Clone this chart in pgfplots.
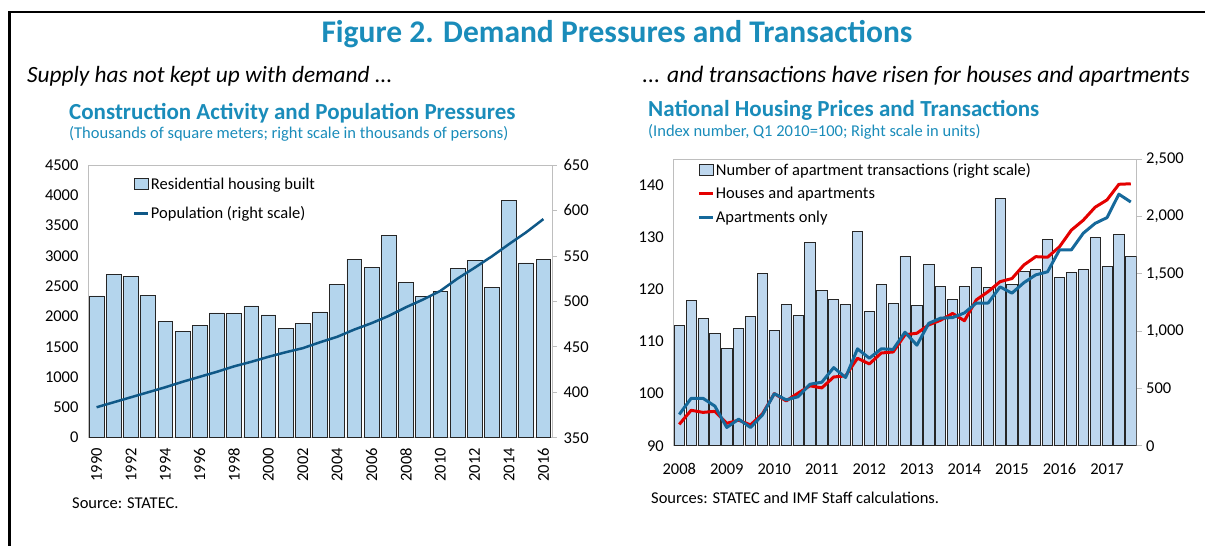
\documentclass[border=0pt]{standalone}
\usepackage{pgfplots}
\usepackage{pgfplotstable}
\pgfplotsset{compat=1.18}
\usepackage{fontspec}
\setmainfont{Carlito}
\definecolor{teal1}{RGB}{26,140,186}
\definecolor{barL}{RGB}{180,213,237}
\definecolor{barR}{RGB}{190,215,238}
\definecolor{popblue}{RGB}{15,88,135}
\definecolor{aptblue}{RGB}{22,105,155}
\definecolor{hred}{RGB}{228,0,0}
\definecolor{axgray}{RGB}{190,190,190}

\pgfplotstableread{
year val pop
1990 2340 383.5
1991 2700 389.0
1992 2655 394.5
1993 2350 400.0
1994 1920 405.5
1995 1755 411.5
1996 1850 417.0
1997 2060 422.5
1998 2045 428.5
1999 2175 433.5
2000 2025 439.0
2001 1805 444.0
2002 1880 448.5
2003 2075 455.0
2004 2535 461.0
2005 2945 469.0
2006 2810 476.0
2007 3340 484.0
2008 2560 493.5
2009 2330 502.0
2010 2420 511.5
2011 2790 525.0
2012 2920 537.0
2013 2475 549.5
2014 3910 563.0
2015 2885 576.0
2016 2945 590.5
}\leftdata

\pgfplotstableread{
i trans red blue
0 1047 94.1 96.0
1 1265 96.8 99.1
2 1108 96.4 99.1
3 983 96.6 97.6
4 850 94.3 93.5
5 1021 94.9 95.1
6 1129 94.0 93.5
7 1501 96.1 95.9
8 1004 100.0 100.0
9 1230 98.6 98.8
10 1138 100.1 99.4
11 1778 101.5 101.8
12 1356 101.1 102.2
13 1280 103.2 105.0
14 1236 103.4 103.1
15 1871 106.8 108.6
16 1169 105.7 106.8
17 1405 107.8 108.6
18 1243 108.0 108.5
19 1655 111.3 111.8
20 1228 111.6 109.3
21 1580 113.2 113.5
22 1391 114.1 114.5
23 1274 115.4 114.6
24 1391 114.0 115.5
25 1553 118.0 117.4
26 1379 119.6 117.4
27 2159 121.5 120.5
28 1405 122.1 119.3
29 1518 124.7 121.3
30 1542 126.3 122.8
31 1798 126.2 123.4
32 1469 128.2 127.6
33 1510 131.4 127.6
34 1536 133.3 130.8
35 1815 135.8 132.7
36 1568 137.2 133.8
37 1847 140.2 138.3
38 1655 140.3 136.8
}\rightdata

\pgfplotsset{
  common/.style={scale only axis, anchor=north west,
    axis line style={draw=axgray, line width=0.8pt},
    tick label style={font=\fontsize{16.5}{19}\selectfont},
    /pgf/number format/assume math mode=true},
  leftgeo/.style={common, at={(88pt,-165pt)}, width=464pt, height=272.7pt, xmin=1989.5, xmax=2016.5,
    /pgf/number format/1000 sep={}},
  rightgeo/.style={common, at={(673.3pt,-159.3pt)}, width=463.4pt, height=286.4pt, xmin=-0.5, xmax=38.5},
  mylegend/.style={legend cell align=left,
    legend style={draw=none, fill=none, font=\fontsize{16.5}{19}\selectfont,
      nodes={inner xsep=1.5pt, inner ysep=1pt}}},
}

\begin{document}
\begin{tikzpicture}
\path[use as bounding box] (0pt,0pt) rectangle (1205pt,-546pt);
\draw[line width=2.5pt] (8pt,-12pt) -- (1206pt,-12pt);
\draw[line width=2.5pt] (9.5pt,-12pt) -- (9.5pt,-547pt);

\node[font=\fontsize{31.5}{34}\selectfont\bfseries, text=teal1] at (617pt,-34pt) {Figure 2. Demand Pressures and Transactions};
\node[anchor=west, inner sep=0pt, font=\fontsize{23.3}{26}\selectfont\itshape] at (27pt,-76pt) {Supply has not kept up with demand ...};
\node[anchor=east, inner sep=0pt, font=\fontsize{23.5}{26}\selectfont\itshape] at (1190pt,-76pt) {... and transactions have risen for houses and apartments};
\node[anchor=west, inner sep=0pt, font=\fontsize{23}{26}\selectfont\bfseries, text=teal1] at (69pt,-113pt) {Construction Activity and Population Pressures};
\node[anchor=west, inner sep=0pt, font=\fontsize{16.5}{19}\selectfont, text=teal1] at (69pt,-134pt) {(Thousands of square meters; right scale in thousands of persons)};
\node[anchor=west, inner sep=0pt, font=\fontsize{23}{26}\selectfont\bfseries, text=teal1] at (648pt,-110pt) {National Housing Prices and Transactions};
\node[anchor=west, inner sep=0pt, font=\fontsize{16.5}{19}\selectfont, text=teal1] at (648pt,-132pt) {(Index number, Q1 2010=100; Right scale in units)};
\node[anchor=west, inner sep=0pt, font=\fontsize{16.5}{19}\selectfont] at (72pt,-503pt) {Source: STATEC.};
\node[anchor=west, inner sep=0pt, font=\fontsize{16.5}{19}\selectfont] at (651pt,-498pt) {Sources: STATEC and IMF Staff calculations.};

% ---------- left chart: bars ----------
\begin{axis}[leftgeo, ymin=0, ymax=4500,
  xtick={1990,1992,...,2016}, ytick={0,500,...,4500},
  xticklabel style={rotate=90, anchor=east},
  xticklabel shift=7pt, yticklabel shift=6pt,
  major tick length=0pt, ytick pos=left, xtick pos=bottom]
\addplot[ybar, bar width=0.86, fill=barL, draw=black!85, line width=0.7pt] table[x=year,y=val]{\leftdata};
\end{axis}
% ---------- left chart: population ----------
\begin{axis}[leftgeo, ymin=350, ymax=650, ytick={350,400,...,650},
  axis x line=none, axis y line*=right, tick align=outside, major tick length=5pt,
  ytick style={draw=axgray, line width=0.8pt}, yticklabel shift=3pt,
  mylegend, legend style={at={(0.09,0.965)}, anchor=north west, row sep=14pt}]
\addlegendimage{legend image code/.code={\draw[fill=barL, draw=black!85, line width=0.7pt] (0pt,-5.5pt) rectangle (14pt,5.5pt);}}
\addlegendentry{Residential housing built}
\addplot[popblue, line width=2.5pt, line join=round,
  legend image code/.code={\draw (0pt,0pt) -- (14pt,0pt);}] table[x=year,y=pop]{\leftdata};
\addlegendentry{Population (right scale)}
\end{axis}

% ---------- right chart: transactions ----------
\begin{axis}[rightgeo, ymin=0, ymax=2500, ytick={0,500,...,2500},
  xtick={0,4,...,36}, xticklabels={2008,2009,2010,2011,2012,2013,2014,2015,2016,2017},
  xtick style={draw=none}, ytick pos=right, yticklabel pos=right,
  tick align=outside, major tick length=5pt, ytick style={draw=axgray, line width=0.8pt},
  yticklabel shift=1pt,
  xticklabel style={yshift=-9pt, text height=11pt, text depth=3pt}]
\addplot[ybar, bar width=0.86, fill=barR, draw=black!85, line width=0.7pt] table[x=i,y=trans]{\rightdata};
\end{axis}
% ---------- right chart: prices ----------
\begin{axis}[rightgeo, ymin=90, ymax=145, ytick={90,100,...,140},
  axis x line=none, axis y line*=left, major tick length=0pt, yticklabel shift=6pt,
  mylegend, legend style={at={(0.045,0.997)}, anchor=north west, row sep=8.5pt}]
\addlegendimage{legend image code/.code={\draw[fill=barR, draw=black!85, line width=0.7pt] (0pt,-5.5pt) rectangle (14pt,5.5pt);}}
\addlegendentry{Number of apartment transactions (right scale)}
\addplot[hred, line width=3pt, line join=round,
  legend image code/.code={\draw (0pt,0pt) -- (14pt,0pt);}] table[x=i,y=red]{\rightdata};
\addlegendentry{Houses and apartments}
\addplot[aptblue, line width=3pt, line join=round,
  legend image code/.code={\draw (0pt,0pt) -- (14pt,0pt);}] table[x=i,y=blue]{\rightdata};
\addlegendentry{Apartments only}
\end{axis}
\end{tikzpicture}
\end{document}
